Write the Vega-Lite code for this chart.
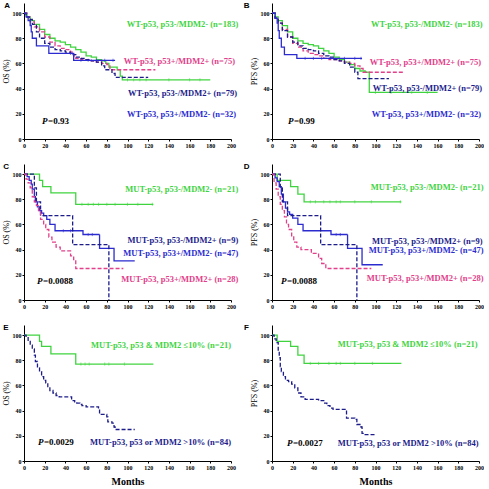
{
"$schema":"https://vega.github.io/schema/vega-lite/v6.json",
"padding":{"left":2,"top":2,"right":0,"bottom":0},
"config":{"view":{"stroke":null},"axis":{"grid":false,"domainColor":"black","tickColor":"black","labelFont":"Liberation Serif","labelFontWeight":"bold","labelFontSize":6,"labelColor":"black","tickSize":2,"labelPadding":1,"titleFont":"Liberation Serif","titleFontWeight":"normal","titleFontSize":8,"titleColor":"black","titlePadding":2,"labelFlush":false,"labelOverlap":false},"scale":{"zero":false}},
"datasets":{
"km":[
{"p":"A","g":"g","t":0,"s":100},{"p":"A","g":"g","t":3,"s":97},{"p":"A","g":"g","t":6,"s":94},{"p":"A","g":"g","t":10,"s":91},{"p":"A","g":"g","t":15,"s":87},{"p":"A","g":"g","t":20,"s":83},{"p":"A","g":"g","t":25,"s":80},{"p":"A","g":"g","t":30,"s":78},{"p":"A","g":"g","t":35,"s":77},{"p":"A","g":"g","t":40,"s":75},{"p":"A","g":"g","t":45,"s":73},{"p":"A","g":"g","t":50,"s":71},{"p":"A","g":"g","t":55,"s":69},{"p":"A","g":"g","t":60,"s":66},{"p":"A","g":"g","t":65,"s":65},{"p":"A","g":"g","t":70,"s":63},{"p":"A","g":"g","t":75,"s":62},{"p":"A","g":"g","t":79,"s":60},{"p":"A","g":"g","t":82,"s":57},{"p":"A","g":"g","t":90,"s":55},{"p":"A","g":"g","t":93,"s":50},{"p":"A","g":"g","t":95,"s":47},{"p":"A","g":"g","t":180,"s":47},
{"p":"A","g":"p","t":0,"s":100},{"p":"A","g":"p","t":3,"s":97},{"p":"A","g":"p","t":6,"s":93},{"p":"A","g":"p","t":10,"s":89},{"p":"A","g":"p","t":15,"s":85},{"p":"A","g":"p","t":20,"s":81},{"p":"A","g":"p","t":25,"s":77},{"p":"A","g":"p","t":30,"s":74},{"p":"A","g":"p","t":35,"s":72},{"p":"A","g":"p","t":40,"s":71},{"p":"A","g":"p","t":45,"s":69},{"p":"A","g":"p","t":48,"s":66},{"p":"A","g":"p","t":50,"s":64},{"p":"A","g":"p","t":55,"s":63},{"p":"A","g":"p","t":65,"s":62},{"p":"A","g":"p","t":70,"s":61},{"p":"A","g":"p","t":75,"s":60},{"p":"A","g":"p","t":80,"s":59},{"p":"A","g":"p","t":83,"s":55},{"p":"A","g":"p","t":127,"s":55},
{"p":"A","g":"n","t":0,"s":100},{"p":"A","g":"n","t":2,"s":97},{"p":"A","g":"n","t":5,"s":95},{"p":"A","g":"n","t":8,"s":91},{"p":"A","g":"n","t":12,"s":85},{"p":"A","g":"n","t":15,"s":80},{"p":"A","g":"n","t":20,"s":76},{"p":"A","g":"n","t":25,"s":73},{"p":"A","g":"n","t":30,"s":71},{"p":"A","g":"n","t":35,"s":70},{"p":"A","g":"n","t":40,"s":69},{"p":"A","g":"n","t":45,"s":67},{"p":"A","g":"n","t":50,"s":65},{"p":"A","g":"n","t":55,"s":64},{"p":"A","g":"n","t":60,"s":63},{"p":"A","g":"n","t":65,"s":62},{"p":"A","g":"n","t":70,"s":61},{"p":"A","g":"n","t":75,"s":58},{"p":"A","g":"n","t":78,"s":55},{"p":"A","g":"n","t":85,"s":52},{"p":"A","g":"n","t":88,"s":49},{"p":"A","g":"n","t":120,"s":49},
{"p":"A","g":"b","t":0,"s":100},{"p":"A","g":"b","t":2,"s":97},{"p":"A","g":"b","t":4,"s":94},{"p":"A","g":"b","t":6,"s":90},{"p":"A","g":"b","t":7,"s":85},{"p":"A","g":"b","t":8,"s":80},{"p":"A","g":"b","t":12,"s":74},{"p":"A","g":"b","t":24,"s":68},{"p":"A","g":"b","t":48,"s":62.5},{"p":"A","g":"b","t":88,"s":62.5},
{"p":"B","g":"g","t":0,"s":100},{"p":"B","g":"g","t":3,"s":97},{"p":"B","g":"g","t":6,"s":94},{"p":"B","g":"g","t":10,"s":90},{"p":"B","g":"g","t":15,"s":85},{"p":"B","g":"g","t":20,"s":80},{"p":"B","g":"g","t":25,"s":78},{"p":"B","g":"g","t":30,"s":76},{"p":"B","g":"g","t":35,"s":75},{"p":"B","g":"g","t":40,"s":74},{"p":"B","g":"g","t":45,"s":72},{"p":"B","g":"g","t":50,"s":70},{"p":"B","g":"g","t":55,"s":68},{"p":"B","g":"g","t":60,"s":65},{"p":"B","g":"g","t":65,"s":63},{"p":"B","g":"g","t":70,"s":61},{"p":"B","g":"g","t":75,"s":59},{"p":"B","g":"g","t":80,"s":56},{"p":"B","g":"g","t":85,"s":54},{"p":"B","g":"g","t":90,"s":53},{"p":"B","g":"g","t":94,"s":37},{"p":"B","g":"g","t":160,"s":37},
{"p":"B","g":"p","t":0,"s":100},{"p":"B","g":"p","t":3,"s":96},{"p":"B","g":"p","t":6,"s":92},{"p":"B","g":"p","t":10,"s":87},{"p":"B","g":"p","t":15,"s":81},{"p":"B","g":"p","t":20,"s":76},{"p":"B","g":"p","t":25,"s":73},{"p":"B","g":"p","t":30,"s":70},{"p":"B","g":"p","t":35,"s":68},{"p":"B","g":"p","t":40,"s":67},{"p":"B","g":"p","t":45,"s":66},{"p":"B","g":"p","t":50,"s":64},{"p":"B","g":"p","t":55,"s":63},{"p":"B","g":"p","t":65,"s":62},{"p":"B","g":"p","t":70,"s":61},{"p":"B","g":"p","t":75,"s":60},{"p":"B","g":"p","t":80,"s":58},{"p":"B","g":"p","t":85,"s":56},{"p":"B","g":"p","t":88,"s":53},{"p":"B","g":"p","t":127,"s":53},
{"p":"B","g":"n","t":0,"s":100},{"p":"B","g":"n","t":3,"s":96},{"p":"B","g":"n","t":6,"s":92},{"p":"B","g":"n","t":10,"s":86},{"p":"B","g":"n","t":15,"s":81},{"p":"B","g":"n","t":20,"s":77},{"p":"B","g":"n","t":25,"s":74},{"p":"B","g":"n","t":30,"s":72},{"p":"B","g":"n","t":35,"s":71},{"p":"B","g":"n","t":40,"s":70},{"p":"B","g":"n","t":45,"s":68},{"p":"B","g":"n","t":50,"s":66},{"p":"B","g":"n","t":55,"s":65},{"p":"B","g":"n","t":60,"s":63},{"p":"B","g":"n","t":65,"s":62},{"p":"B","g":"n","t":70,"s":60},{"p":"B","g":"n","t":75,"s":57},{"p":"B","g":"n","t":80,"s":53},{"p":"B","g":"n","t":83,"s":48},{"p":"B","g":"n","t":113,"s":48},
{"p":"B","g":"b","t":0,"s":100},{"p":"B","g":"b","t":3,"s":96},{"p":"B","g":"b","t":5,"s":92},{"p":"B","g":"b","t":6,"s":86},{"p":"B","g":"b","t":7,"s":80},{"p":"B","g":"b","t":9,"s":73},{"p":"B","g":"b","t":12,"s":67},{"p":"B","g":"b","t":24,"s":64},{"p":"B","g":"b","t":87,"s":64},
{"p":"C","g":"g","t":0,"s":100},{"p":"C","g":"g","t":15,"s":95},{"p":"C","g":"g","t":18,"s":90},{"p":"C","g":"g","t":26,"s":85},{"p":"C","g":"g","t":50,"s":76},{"p":"C","g":"g","t":125,"s":76},
{"p":"C","g":"b","t":0,"s":100},{"p":"C","g":"b","t":3,"s":98},{"p":"C","g":"b","t":5,"s":95},{"p":"C","g":"b","t":7,"s":92},{"p":"C","g":"b","t":8,"s":88},{"p":"C","g":"b","t":10,"s":82},{"p":"C","g":"b","t":11,"s":78},{"p":"C","g":"b","t":13,"s":74},{"p":"C","g":"b","t":15,"s":71},{"p":"C","g":"b","t":17,"s":69},{"p":"C","g":"b","t":19,"s":67},{"p":"C","g":"b","t":22,"s":64},{"p":"C","g":"b","t":25,"s":60},{"p":"C","g":"b","t":30,"s":55},{"p":"C","g":"b","t":57,"s":52},{"p":"C","g":"b","t":73,"s":41},{"p":"C","g":"b","t":87,"s":31},{"p":"C","g":"b","t":107,"s":31},
{"p":"C","g":"n","t":0,"s":100},{"p":"C","g":"n","t":10,"s":89},{"p":"C","g":"n","t":12,"s":78},{"p":"C","g":"n","t":16,"s":67},{"p":"C","g":"n","t":47,"s":44},{"p":"C","g":"n","t":82,"s":0},
{"p":"C","g":"p","t":0,"s":100},{"p":"C","g":"p","t":2,"s":96},{"p":"C","g":"p","t":4,"s":93},{"p":"C","g":"p","t":6,"s":89},{"p":"C","g":"p","t":8,"s":82},{"p":"C","g":"p","t":10,"s":78},{"p":"C","g":"p","t":12,"s":75},{"p":"C","g":"p","t":14,"s":71},{"p":"C","g":"p","t":16,"s":64},{"p":"C","g":"p","t":19,"s":60},{"p":"C","g":"p","t":21,"s":56},{"p":"C","g":"p","t":24,"s":50},{"p":"C","g":"p","t":27,"s":46},{"p":"C","g":"p","t":31,"s":42},{"p":"C","g":"p","t":35,"s":39},{"p":"C","g":"p","t":45,"s":35},{"p":"C","g":"p","t":48,"s":32},{"p":"C","g":"p","t":50,"s":25},{"p":"C","g":"p","t":96,"s":25},
{"p":"D","g":"g","t":0,"s":100},{"p":"D","g":"g","t":5,"s":95},{"p":"D","g":"g","t":18,"s":90},{"p":"D","g":"g","t":25,"s":84},{"p":"D","g":"g","t":31,"s":78},{"p":"D","g":"g","t":125,"s":78},
{"p":"D","g":"b","t":0,"s":100},{"p":"D","g":"b","t":3,"s":97},{"p":"D","g":"b","t":5,"s":94},{"p":"D","g":"b","t":7,"s":90},{"p":"D","g":"b","t":9,"s":84},{"p":"D","g":"b","t":11,"s":78},{"p":"D","g":"b","t":13,"s":73},{"p":"D","g":"b","t":15,"s":70},{"p":"D","g":"b","t":17,"s":68},{"p":"D","g":"b","t":20,"s":65},{"p":"D","g":"b","t":25,"s":60},{"p":"D","g":"b","t":30,"s":55},{"p":"D","g":"b","t":57,"s":52},{"p":"D","g":"b","t":73,"s":41},{"p":"D","g":"b","t":87,"s":28},{"p":"D","g":"b","t":107,"s":28},
{"p":"D","g":"n","t":0,"s":100},{"p":"D","g":"n","t":8,"s":89},{"p":"D","g":"n","t":10,"s":78},{"p":"D","g":"n","t":15,"s":67},{"p":"D","g":"n","t":47,"s":44},{"p":"D","g":"n","t":82,"s":0},
{"p":"D","g":"p","t":0,"s":100},{"p":"D","g":"p","t":2,"s":93},{"p":"D","g":"p","t":4,"s":88},{"p":"D","g":"p","t":6,"s":82},{"p":"D","g":"p","t":8,"s":76},{"p":"D","g":"p","t":10,"s":71},{"p":"D","g":"p","t":12,"s":66},{"p":"D","g":"p","t":14,"s":60},{"p":"D","g":"p","t":16,"s":56},{"p":"D","g":"p","t":19,"s":51},{"p":"D","g":"p","t":21,"s":46},{"p":"D","g":"p","t":24,"s":42},{"p":"D","g":"p","t":28,"s":40},{"p":"D","g":"p","t":38,"s":37},{"p":"D","g":"p","t":45,"s":33},{"p":"D","g":"p","t":48,"s":29},{"p":"D","g":"p","t":52,"s":25},{"p":"D","g":"p","t":96,"s":25},
{"p":"E","g":"g","t":0,"s":100},{"p":"E","g":"g","t":15,"s":95},{"p":"E","g":"g","t":17,"s":91},{"p":"E","g":"g","t":26,"s":85},{"p":"E","g":"g","t":50,"s":77},{"p":"E","g":"g","t":125,"s":77},
{"p":"E","g":"n","t":0,"s":100},{"p":"E","g":"n","t":2,"s":98},{"p":"E","g":"n","t":4,"s":95},{"p":"E","g":"n","t":6,"s":92},{"p":"E","g":"n","t":8,"s":89},{"p":"E","g":"n","t":10,"s":84},{"p":"E","g":"n","t":11,"s":79},{"p":"E","g":"n","t":13,"s":74},{"p":"E","g":"n","t":15,"s":71},{"p":"E","g":"n","t":17,"s":67},{"p":"E","g":"n","t":19,"s":64},{"p":"E","g":"n","t":21,"s":62},{"p":"E","g":"n","t":23,"s":59},{"p":"E","g":"n","t":25,"s":56},{"p":"E","g":"n","t":28,"s":54},{"p":"E","g":"n","t":31,"s":52},{"p":"E","g":"n","t":34,"s":51},{"p":"E","g":"n","t":44,"s":51},{"p":"E","g":"n","t":46,"s":48},{"p":"E","g":"n","t":49,"s":47},{"p":"E","g":"n","t":51,"s":46},{"p":"E","g":"n","t":54,"s":45},{"p":"E","g":"n","t":56,"s":44},{"p":"E","g":"n","t":60,"s":43},{"p":"E","g":"n","t":72,"s":41},{"p":"E","g":"n","t":73,"s":37},{"p":"E","g":"n","t":80,"s":35},{"p":"E","g":"n","t":81,"s":31},{"p":"E","g":"n","t":85,"s":30},{"p":"E","g":"n","t":87,"s":27},{"p":"E","g":"n","t":88,"s":25},{"p":"E","g":"n","t":107,"s":25},
{"p":"F","g":"g","t":0,"s":100},{"p":"F","g":"g","t":5,"s":95},{"p":"F","g":"g","t":18,"s":91},{"p":"F","g":"g","t":25,"s":84},{"p":"F","g":"g","t":31,"s":77.5},{"p":"F","g":"g","t":125,"s":77.5},
{"p":"F","g":"n","t":0,"s":100},{"p":"F","g":"n","t":2,"s":97},{"p":"F","g":"n","t":4,"s":94},{"p":"F","g":"n","t":6,"s":88},{"p":"F","g":"n","t":7,"s":82},{"p":"F","g":"n","t":8,"s":75},{"p":"F","g":"n","t":9,"s":71},{"p":"F","g":"n","t":11,"s":67},{"p":"F","g":"n","t":13,"s":64},{"p":"F","g":"n","t":16,"s":63},{"p":"F","g":"n","t":19,"s":61},{"p":"F","g":"n","t":22,"s":58},{"p":"F","g":"n","t":25,"s":54},{"p":"F","g":"n","t":28,"s":51},{"p":"F","g":"n","t":32,"s":49},{"p":"F","g":"n","t":45,"s":48},{"p":"F","g":"n","t":50,"s":46},{"p":"F","g":"n","t":53,"s":44},{"p":"F","g":"n","t":56,"s":42},{"p":"F","g":"n","t":59,"s":41},{"p":"F","g":"n","t":72,"s":34},{"p":"F","g":"n","t":80,"s":33},{"p":"F","g":"n","t":82,"s":29},{"p":"F","g":"n","t":86,"s":27},{"p":"F","g":"n","t":87,"s":22},{"p":"F","g":"n","t":88,"s":21},{"p":"F","g":"n","t":100,"s":21}
],
"cens":[
{"p":"A","g":"g","t":100,"s":47},{"p":"A","g":"g","t":106,"s":47},{"p":"A","g":"g","t":112,"s":47},{"p":"A","g":"g","t":118,"s":47},{"p":"A","g":"g","t":140,"s":47},{"p":"A","g":"g","t":160,"s":47},{"p":"A","g":"g","t":170,"s":47},
{"p":"A","g":"b","t":55,"s":62.5},{"p":"A","g":"b","t":62,"s":62.5},{"p":"A","g":"b","t":70,"s":62.5},{"p":"A","g":"b","t":78,"s":62.5},{"p":"A","g":"b","t":86,"s":62.5},
{"p":"B","g":"g","t":100,"s":37},{"p":"B","g":"g","t":115,"s":37},{"p":"B","g":"g","t":135,"s":37},{"p":"B","g":"g","t":150,"s":37},
{"p":"B","g":"b","t":32,"s":64},{"p":"B","g":"b","t":40,"s":64},{"p":"B","g":"b","t":48,"s":64},{"p":"B","g":"b","t":56,"s":64},{"p":"B","g":"b","t":70,"s":64},{"p":"B","g":"b","t":80,"s":64},{"p":"B","g":"b","t":86,"s":64},
{"p":"C","g":"g","t":56,"s":76},{"p":"C","g":"g","t":62,"s":76},{"p":"C","g":"g","t":67,"s":76},{"p":"C","g":"g","t":72,"s":76},{"p":"C","g":"g","t":80,"s":76},{"p":"C","g":"g","t":88,"s":76},{"p":"C","g":"g","t":100,"s":76},{"p":"C","g":"g","t":110,"s":76},{"p":"C","g":"g","t":124,"s":76},
{"p":"C","g":"b","t":38,"s":55},{"p":"C","g":"b","t":45,"s":55},{"p":"C","g":"b","t":62,"s":52},{"p":"C","g":"b","t":66,"s":52},
{"p":"D","g":"g","t":37,"s":78},{"p":"D","g":"g","t":42,"s":78},{"p":"D","g":"g","t":50,"s":78},{"p":"D","g":"g","t":56,"s":78},{"p":"D","g":"g","t":62,"s":78},{"p":"D","g":"g","t":66,"s":78},{"p":"D","g":"g","t":80,"s":78},{"p":"D","g":"g","t":96,"s":78},{"p":"D","g":"g","t":124,"s":78},
{"p":"D","g":"b","t":62,"s":52},{"p":"D","g":"b","t":66,"s":52},
{"p":"E","g":"g","t":55,"s":77},{"p":"E","g":"g","t":59,"s":77},{"p":"E","g":"g","t":63,"s":77},{"p":"E","g":"g","t":78,"s":77},{"p":"E","g":"g","t":82,"s":77},{"p":"E","g":"g","t":97,"s":77},
{"p":"F","g":"g","t":37,"s":77.5},{"p":"F","g":"g","t":45,"s":77.5},{"p":"F","g":"g","t":55,"s":77.5},{"p":"F","g":"g","t":62,"s":77.5},{"p":"F","g":"g","t":66,"s":77.5},{"p":"F","g":"g","t":80,"s":77.5},{"p":"F","g":"g","t":97,"s":77.5}
],
"lab":[
{"p":"A","g":"g","x":207,"y":91,"label":"WT-p53, p53-/MDM2- (n=183)"},
{"p":"A","g":"p","x":204,"y":62,"label":"WT-p53, p53+/MDM2+ (n=75)"},
{"p":"A","g":"n","x":206,"y":36.5,"label":"WT-p53, p53-/MDM2+ (n=79)"},
{"p":"A","g":"b","x":205,"y":20,"label":"WT-p53, p53+/MDM2- (n=32)"},
{"p":"B","g":"g","x":203.5,"y":91,"label":"WT-p53, p53-/MDM2- (n=183)"},
{"p":"B","g":"p","x":202,"y":61,"label":"WT-p53, p53+/MDM2+ (n=75)"},
{"p":"B","g":"n","x":203,"y":40.5,"label":"WT-p53, p53-/MDM2+ (n=79)"},
{"p":"B","g":"b","x":202,"y":20,"label":"WT-p53, p53+/MDM2- (n=32)"},
{"p":"C","g":"g","x":207,"y":88,"label":"MUT-p53, p53-/MDM2- (n=21)"},
{"p":"C","g":"n","x":207,"y":48,"label":"MUT-p53, p53-/MDM2+ (n=9)"},
{"p":"C","g":"b","x":207,"y":37,"label":"MUT-p53, p53+/MDM2- (n=47)"},
{"p":"C","g":"p","x":207,"y":17,"label":"MUT-p53, p53+/MDM2+ (n=28)"},
{"p":"D","g":"g","x":204.5,"y":89.5,"label":"MUT-p53, p53-/MDM2- (n=21)"},
{"p":"D","g":"n","x":203.5,"y":47,"label":"MUT-p53, p53-/MDM2+ (n=9)"},
{"p":"D","g":"b","x":204.5,"y":40,"label":"MUT-p53, p53+/MDM2- (n=47)"},
{"p":"D","g":"p","x":204.5,"y":17.5,"label":"MUT-p53, p53+/MDM2+ (n=28)"},
{"p":"E","g":"g","x":200,"y":92.5,"label":"MUT-p53, p53 & MDM2 ≤10% (n=21)"},
{"p":"E","g":"n","x":200,"y":15,"label":"MUT-p53, p53 or MDM2 >10% (n=84)"},
{"p":"F","g":"g","x":198.7,"y":93,"label":"MUT-p53, p53 & MDM2 ≤10% (n=21)"},
{"p":"F","g":"n","x":199.7,"y":14,"label":"MUT-p53, p53 or MDM2 >10% (n=84)"}
],
"pv":[
{"p":"A","x":17.4,"y":14.6,"label":"=0.93"},
{"p":"B","x":15.4,"y":14.6,"label":"=0.99"},
{"p":"C","x":12.6,"y":15,"label":"=0.0088"},
{"p":"D","x":8.7,"y":15,"label":"=0.0088"},
{"p":"E","x":13.5,"y":15,"label":"=0.0029"},
{"p":"F","x":14.4,"y":14,"label":"=0.0027"}
],
"let":[
{"p":"A","x":-19,"y":104,"label":"A"},
{"p":"B","x":-27.4,"y":104,"label":"B"},
{"p":"C","x":-20,"y":104,"label":"C"},
{"p":"D","x":-27.4,"y":104,"label":"D"},
{"p":"E","x":-20,"y":104,"label":"E"},
{"p":"F","x":-27,"y":104,"label":"F"}
]
},
"concat":[
{"width":207,"height":136,"layer":[
{"data":{"name":"km"},"transform":[{"filter":"datum.p==='A'"}],"mark":{"type":"line","interpolate":"step-after","strokeWidth":1.3},"encoding":{"x":{"field":"t","type":"quantitative","scale":{"domain":[0,200],"nice":false},"axis":{"values":[0,20,40,60,80,100,120,140,160,180,200],"labelOverlap":false,"title":null}},"y":{"field":"s","type":"quantitative","scale":{"domain":[0,108],"nice":false},"axis":{"values":[0,20,40,60,80,100],"labelOverlap":false,"title":"OS (%)"}},"color":{"field":"g","type":"nominal","scale":{"domain":["g","p","n","b"],"range":["#3fd43f","#e2408a","#1c1c8a","#2b2bd0"]},"legend":null},"strokeDash":{"field":"g","type":"nominal","scale":{"domain":["g","p","n","b"],"range":[[1,0],[4,2],[4,2],[1,0]]},"legend":null}}},
{"data":{"name":"cens"},"transform":[{"filter":"datum.p==='A'"}],"mark":{"type":"point","shape":"stroke","angle":90,"size":10,"strokeWidth":0.8},"encoding":{"x":{"field":"t","type":"quantitative","scale":{"domain":[0,200],"nice":false},"axis":{"values":[0,20,40,60,80,100,120,140,160,180,200],"labelOverlap":false,"title":null}},"y":{"field":"s","type":"quantitative","scale":{"domain":[0,108],"nice":false},"axis":{"values":[0,20,40,60,80,100],"labelOverlap":false,"title":"OS (%)"}},"color":{"field":"g","type":"nominal","legend":null}}},
{"data":{"name":"lab"},"transform":[{"filter":"datum.p==='A'"}],"mark":{"type":"text","align":"right","baseline":"middle","font":"Liberation Serif","fontWeight":"bold","fontSize":8.5},"encoding":{"x":{"field":"x","type":"quantitative","scale":{"domain":[0,200],"nice":false},"axis":{"values":[0,20,40,60,80,100,120,140,160,180,200],"labelOverlap":false,"title":null}},"y":{"field":"y","type":"quantitative","scale":{"domain":[0,108],"nice":false},"axis":{"values":[0,20,40,60,80,100],"labelOverlap":false,"title":"OS (%)"}},"text":{"field":"label"},"color":{"field":"g","type":"nominal","legend":null}}},
{"data":{"name":"pv"},"transform":[{"filter":"datum.p==='A'"}],"mark":{"type":"text","align":"left","baseline":"middle","font":"Liberation Serif","fontWeight":"bold","fontStyle":"italic","fontSize":9,"color":"black"},"encoding":{"x":{"field":"x","type":"quantitative","scale":{"domain":[0,200],"nice":false},"axis":{"values":[0,20,40,60,80,100,120,140,160,180,200],"labelOverlap":false,"title":null}},"y":{"field":"y","type":"quantitative","scale":{"domain":[0,108],"nice":false},"axis":{"values":[0,20,40,60,80,100],"labelOverlap":false,"title":"OS (%)"}},"text":{"value":"P"}}},
{"data":{"name":"pv"},"transform":[{"filter":"datum.p==='A'"}],"mark":{"type":"text","align":"left","baseline":"middle","font":"Liberation Serif","fontWeight":"bold","fontSize":9,"dx":6,"color":"black"},"encoding":{"x":{"field":"x","type":"quantitative","scale":{"domain":[0,200],"nice":false},"axis":{"values":[0,20,40,60,80,100,120,140,160,180,200],"labelOverlap":false,"title":null}},"y":{"field":"y","type":"quantitative","scale":{"domain":[0,108],"nice":false},"axis":{"values":[0,20,40,60,80,100],"labelOverlap":false,"title":"OS (%)"}},"text":{"field":"label"}}},
{"data":{"name":"let"},"transform":[{"filter":"datum.p==='A'"}],"mark":{"type":"text","align":"left","baseline":"alphabetic","font":"Liberation Sans","fontWeight":"bold","fontSize":8,"color":"black"},"encoding":{"x":{"field":"x","type":"quantitative","scale":{"domain":[0,200],"nice":false},"axis":{"values":[0,20,40,60,80,100,120,140,160,180,200],"labelOverlap":false,"title":null}},"y":{"field":"y","type":"quantitative","scale":{"domain":[0,108],"nice":false},"axis":{"values":[0,20,40,60,80,100],"labelOverlap":false,"title":"OS (%)"}},"text":{"field":"label"}}}
]},
{"width":207,"height":136,"layer":[
{"data":{"name":"km"},"transform":[{"filter":"datum.p==='B'"}],"mark":{"type":"line","interpolate":"step-after","strokeWidth":1.3},"encoding":{"x":{"field":"t","type":"quantitative","scale":{"domain":[0,200],"nice":false},"axis":{"values":[0,20,40,60,80,100,120,140,160,180,200],"labelOverlap":false,"title":null}},"y":{"field":"s","type":"quantitative","scale":{"domain":[0,108],"nice":false},"axis":{"values":[0,20,40,60,80,100],"labelOverlap":false,"title":"PFS (%)"}},"color":{"field":"g","type":"nominal","scale":{"domain":["g","p","n","b"],"range":["#3fd43f","#e2408a","#1c1c8a","#2b2bd0"]},"legend":null},"strokeDash":{"field":"g","type":"nominal","scale":{"domain":["g","p","n","b"],"range":[[1,0],[4,2],[4,2],[1,0]]},"legend":null}}},
{"data":{"name":"cens"},"transform":[{"filter":"datum.p==='B'"}],"mark":{"type":"point","shape":"stroke","angle":90,"size":10,"strokeWidth":0.8},"encoding":{"x":{"field":"t","type":"quantitative","scale":{"domain":[0,200],"nice":false},"axis":{"values":[0,20,40,60,80,100,120,140,160,180,200],"labelOverlap":false,"title":null}},"y":{"field":"s","type":"quantitative","scale":{"domain":[0,108],"nice":false},"axis":{"values":[0,20,40,60,80,100],"labelOverlap":false,"title":"PFS (%)"}},"color":{"field":"g","type":"nominal","legend":null}}},
{"data":{"name":"lab"},"transform":[{"filter":"datum.p==='B'"}],"mark":{"type":"text","align":"right","baseline":"middle","font":"Liberation Serif","fontWeight":"bold","fontSize":8.5},"encoding":{"x":{"field":"x","type":"quantitative","scale":{"domain":[0,200],"nice":false},"axis":{"values":[0,20,40,60,80,100,120,140,160,180,200],"labelOverlap":false,"title":null}},"y":{"field":"y","type":"quantitative","scale":{"domain":[0,108],"nice":false},"axis":{"values":[0,20,40,60,80,100],"labelOverlap":false,"title":"PFS (%)"}},"text":{"field":"label"},"color":{"field":"g","type":"nominal","legend":null}}},
{"data":{"name":"pv"},"transform":[{"filter":"datum.p==='B'"}],"mark":{"type":"text","align":"left","baseline":"middle","font":"Liberation Serif","fontWeight":"bold","fontStyle":"italic","fontSize":9,"color":"black"},"encoding":{"x":{"field":"x","type":"quantitative","scale":{"domain":[0,200],"nice":false},"axis":{"values":[0,20,40,60,80,100,120,140,160,180,200],"labelOverlap":false,"title":null}},"y":{"field":"y","type":"quantitative","scale":{"domain":[0,108],"nice":false},"axis":{"values":[0,20,40,60,80,100],"labelOverlap":false,"title":"PFS (%)"}},"text":{"value":"P"}}},
{"data":{"name":"pv"},"transform":[{"filter":"datum.p==='B'"}],"mark":{"type":"text","align":"left","baseline":"middle","font":"Liberation Serif","fontWeight":"bold","fontSize":9,"dx":6,"color":"black"},"encoding":{"x":{"field":"x","type":"quantitative","scale":{"domain":[0,200],"nice":false},"axis":{"values":[0,20,40,60,80,100,120,140,160,180,200],"labelOverlap":false,"title":null}},"y":{"field":"y","type":"quantitative","scale":{"domain":[0,108],"nice":false},"axis":{"values":[0,20,40,60,80,100],"labelOverlap":false,"title":"PFS (%)"}},"text":{"field":"label"}}},
{"data":{"name":"let"},"transform":[{"filter":"datum.p==='B'"}],"mark":{"type":"text","align":"left","baseline":"alphabetic","font":"Liberation Sans","fontWeight":"bold","fontSize":8,"color":"black"},"encoding":{"x":{"field":"x","type":"quantitative","scale":{"domain":[0,200],"nice":false},"axis":{"values":[0,20,40,60,80,100,120,140,160,180,200],"labelOverlap":false,"title":null}},"y":{"field":"y","type":"quantitative","scale":{"domain":[0,108],"nice":false},"axis":{"values":[0,20,40,60,80,100],"labelOverlap":false,"title":"PFS (%)"}},"text":{"field":"label"}}}
]},
{"width":207,"height":136,"layer":[
{"data":{"name":"km"},"transform":[{"filter":"datum.p==='C'"}],"mark":{"type":"line","interpolate":"step-after","strokeWidth":1.3},"encoding":{"x":{"field":"t","type":"quantitative","scale":{"domain":[0,200],"nice":false},"axis":{"values":[0,20,40,60,80,100,120,140,160,180,200],"labelOverlap":false,"title":null}},"y":{"field":"s","type":"quantitative","scale":{"domain":[0,108],"nice":false},"axis":{"values":[0,20,40,60,80,100],"labelOverlap":false,"title":"OS (%)"}},"color":{"field":"g","type":"nominal","scale":{"domain":["g","p","n","b"],"range":["#3fd43f","#e2408a","#1c1c8a","#2b2bd0"]},"legend":null},"strokeDash":{"field":"g","type":"nominal","scale":{"domain":["g","p","n","b"],"range":[[1,0],[4,2],[4,2],[1,0]]},"legend":null}}},
{"data":{"name":"cens"},"transform":[{"filter":"datum.p==='C'"}],"mark":{"type":"point","shape":"stroke","angle":90,"size":10,"strokeWidth":0.8},"encoding":{"x":{"field":"t","type":"quantitative","scale":{"domain":[0,200],"nice":false},"axis":{"values":[0,20,40,60,80,100,120,140,160,180,200],"labelOverlap":false,"title":null}},"y":{"field":"s","type":"quantitative","scale":{"domain":[0,108],"nice":false},"axis":{"values":[0,20,40,60,80,100],"labelOverlap":false,"title":"OS (%)"}},"color":{"field":"g","type":"nominal","legend":null}}},
{"data":{"name":"lab"},"transform":[{"filter":"datum.p==='C'"}],"mark":{"type":"text","align":"right","baseline":"middle","font":"Liberation Serif","fontWeight":"bold","fontSize":8.5},"encoding":{"x":{"field":"x","type":"quantitative","scale":{"domain":[0,200],"nice":false},"axis":{"values":[0,20,40,60,80,100,120,140,160,180,200],"labelOverlap":false,"title":null}},"y":{"field":"y","type":"quantitative","scale":{"domain":[0,108],"nice":false},"axis":{"values":[0,20,40,60,80,100],"labelOverlap":false,"title":"OS (%)"}},"text":{"field":"label"},"color":{"field":"g","type":"nominal","legend":null}}},
{"data":{"name":"pv"},"transform":[{"filter":"datum.p==='C'"}],"mark":{"type":"text","align":"left","baseline":"middle","font":"Liberation Serif","fontWeight":"bold","fontStyle":"italic","fontSize":9,"color":"black"},"encoding":{"x":{"field":"x","type":"quantitative","scale":{"domain":[0,200],"nice":false},"axis":{"values":[0,20,40,60,80,100,120,140,160,180,200],"labelOverlap":false,"title":null}},"y":{"field":"y","type":"quantitative","scale":{"domain":[0,108],"nice":false},"axis":{"values":[0,20,40,60,80,100],"labelOverlap":false,"title":"OS (%)"}},"text":{"value":"P"}}},
{"data":{"name":"pv"},"transform":[{"filter":"datum.p==='C'"}],"mark":{"type":"text","align":"left","baseline":"middle","font":"Liberation Serif","fontWeight":"bold","fontSize":9,"dx":6,"color":"black"},"encoding":{"x":{"field":"x","type":"quantitative","scale":{"domain":[0,200],"nice":false},"axis":{"values":[0,20,40,60,80,100,120,140,160,180,200],"labelOverlap":false,"title":null}},"y":{"field":"y","type":"quantitative","scale":{"domain":[0,108],"nice":false},"axis":{"values":[0,20,40,60,80,100],"labelOverlap":false,"title":"OS (%)"}},"text":{"field":"label"}}},
{"data":{"name":"let"},"transform":[{"filter":"datum.p==='C'"}],"mark":{"type":"text","align":"left","baseline":"alphabetic","font":"Liberation Sans","fontWeight":"bold","fontSize":8,"color":"black"},"encoding":{"x":{"field":"x","type":"quantitative","scale":{"domain":[0,200],"nice":false},"axis":{"values":[0,20,40,60,80,100,120,140,160,180,200],"labelOverlap":false,"title":null}},"y":{"field":"y","type":"quantitative","scale":{"domain":[0,108],"nice":false},"axis":{"values":[0,20,40,60,80,100],"labelOverlap":false,"title":"OS (%)"}},"text":{"field":"label"}}}
]},
{"width":207,"height":136,"layer":[
{"data":{"name":"km"},"transform":[{"filter":"datum.p==='D'"}],"mark":{"type":"line","interpolate":"step-after","strokeWidth":1.3},"encoding":{"x":{"field":"t","type":"quantitative","scale":{"domain":[0,200],"nice":false},"axis":{"values":[0,20,40,60,80,100,120,140,160,180,200],"labelOverlap":false,"title":null}},"y":{"field":"s","type":"quantitative","scale":{"domain":[0,108],"nice":false},"axis":{"values":[0,20,40,60,80,100],"labelOverlap":false,"title":"PFS (%)"}},"color":{"field":"g","type":"nominal","scale":{"domain":["g","p","n","b"],"range":["#3fd43f","#e2408a","#1c1c8a","#2b2bd0"]},"legend":null},"strokeDash":{"field":"g","type":"nominal","scale":{"domain":["g","p","n","b"],"range":[[1,0],[4,2],[4,2],[1,0]]},"legend":null}}},
{"data":{"name":"cens"},"transform":[{"filter":"datum.p==='D'"}],"mark":{"type":"point","shape":"stroke","angle":90,"size":10,"strokeWidth":0.8},"encoding":{"x":{"field":"t","type":"quantitative","scale":{"domain":[0,200],"nice":false},"axis":{"values":[0,20,40,60,80,100,120,140,160,180,200],"labelOverlap":false,"title":null}},"y":{"field":"s","type":"quantitative","scale":{"domain":[0,108],"nice":false},"axis":{"values":[0,20,40,60,80,100],"labelOverlap":false,"title":"PFS (%)"}},"color":{"field":"g","type":"nominal","legend":null}}},
{"data":{"name":"lab"},"transform":[{"filter":"datum.p==='D'"}],"mark":{"type":"text","align":"right","baseline":"middle","font":"Liberation Serif","fontWeight":"bold","fontSize":8.5},"encoding":{"x":{"field":"x","type":"quantitative","scale":{"domain":[0,200],"nice":false},"axis":{"values":[0,20,40,60,80,100,120,140,160,180,200],"labelOverlap":false,"title":null}},"y":{"field":"y","type":"quantitative","scale":{"domain":[0,108],"nice":false},"axis":{"values":[0,20,40,60,80,100],"labelOverlap":false,"title":"PFS (%)"}},"text":{"field":"label"},"color":{"field":"g","type":"nominal","legend":null}}},
{"data":{"name":"pv"},"transform":[{"filter":"datum.p==='D'"}],"mark":{"type":"text","align":"left","baseline":"middle","font":"Liberation Serif","fontWeight":"bold","fontStyle":"italic","fontSize":9,"color":"black"},"encoding":{"x":{"field":"x","type":"quantitative","scale":{"domain":[0,200],"nice":false},"axis":{"values":[0,20,40,60,80,100,120,140,160,180,200],"labelOverlap":false,"title":null}},"y":{"field":"y","type":"quantitative","scale":{"domain":[0,108],"nice":false},"axis":{"values":[0,20,40,60,80,100],"labelOverlap":false,"title":"PFS (%)"}},"text":{"value":"P"}}},
{"data":{"name":"pv"},"transform":[{"filter":"datum.p==='D'"}],"mark":{"type":"text","align":"left","baseline":"middle","font":"Liberation Serif","fontWeight":"bold","fontSize":9,"dx":6,"color":"black"},"encoding":{"x":{"field":"x","type":"quantitative","scale":{"domain":[0,200],"nice":false},"axis":{"values":[0,20,40,60,80,100,120,140,160,180,200],"labelOverlap":false,"title":null}},"y":{"field":"y","type":"quantitative","scale":{"domain":[0,108],"nice":false},"axis":{"values":[0,20,40,60,80,100],"labelOverlap":false,"title":"PFS (%)"}},"text":{"field":"label"}}},
{"data":{"name":"let"},"transform":[{"filter":"datum.p==='D'"}],"mark":{"type":"text","align":"left","baseline":"alphabetic","font":"Liberation Sans","fontWeight":"bold","fontSize":8,"color":"black"},"encoding":{"x":{"field":"x","type":"quantitative","scale":{"domain":[0,200],"nice":false},"axis":{"values":[0,20,40,60,80,100,120,140,160,180,200],"labelOverlap":false,"title":null}},"y":{"field":"y","type":"quantitative","scale":{"domain":[0,108],"nice":false},"axis":{"values":[0,20,40,60,80,100],"labelOverlap":false,"title":"PFS (%)"}},"text":{"field":"label"}}}
]},
{"width":207,"height":136,"layer":[
{"data":{"name":"km"},"transform":[{"filter":"datum.p==='E'"}],"mark":{"type":"line","interpolate":"step-after","strokeWidth":1.3},"encoding":{"x":{"field":"t","type":"quantitative","scale":{"domain":[0,200],"nice":false},"axis":{"values":[0,20,40,60,80,100,120,140,160,180,200],"labelOverlap":false,"title":"Months","titleFontWeight":"bold","titleFontSize":10,"titlePadding":6}},"y":{"field":"s","type":"quantitative","scale":{"domain":[0,108],"nice":false},"axis":{"values":[0,20,40,60,80,100],"labelOverlap":false,"title":"OS (%)"}},"color":{"field":"g","type":"nominal","scale":{"domain":["g","p","n","b"],"range":["#3fd43f","#e2408a","#1c1c8a","#2b2bd0"]},"legend":null},"strokeDash":{"field":"g","type":"nominal","scale":{"domain":["g","p","n","b"],"range":[[1,0],[4,2],[4,2],[1,0]]},"legend":null}}},
{"data":{"name":"cens"},"transform":[{"filter":"datum.p==='E'"}],"mark":{"type":"point","shape":"stroke","angle":90,"size":10,"strokeWidth":0.8},"encoding":{"x":{"field":"t","type":"quantitative","scale":{"domain":[0,200],"nice":false},"axis":{"values":[0,20,40,60,80,100,120,140,160,180,200],"labelOverlap":false,"title":"Months","titleFontWeight":"bold","titleFontSize":10,"titlePadding":6}},"y":{"field":"s","type":"quantitative","scale":{"domain":[0,108],"nice":false},"axis":{"values":[0,20,40,60,80,100],"labelOverlap":false,"title":"OS (%)"}},"color":{"field":"g","type":"nominal","legend":null}}},
{"data":{"name":"lab"},"transform":[{"filter":"datum.p==='E'"}],"mark":{"type":"text","align":"right","baseline":"middle","font":"Liberation Serif","fontWeight":"bold","fontSize":8.5},"encoding":{"x":{"field":"x","type":"quantitative","scale":{"domain":[0,200],"nice":false},"axis":{"values":[0,20,40,60,80,100,120,140,160,180,200],"labelOverlap":false,"title":"Months","titleFontWeight":"bold","titleFontSize":10,"titlePadding":6}},"y":{"field":"y","type":"quantitative","scale":{"domain":[0,108],"nice":false},"axis":{"values":[0,20,40,60,80,100],"labelOverlap":false,"title":"OS (%)"}},"text":{"field":"label"},"color":{"field":"g","type":"nominal","legend":null}}},
{"data":{"name":"pv"},"transform":[{"filter":"datum.p==='E'"}],"mark":{"type":"text","align":"left","baseline":"middle","font":"Liberation Serif","fontWeight":"bold","fontStyle":"italic","fontSize":9,"color":"black"},"encoding":{"x":{"field":"x","type":"quantitative","scale":{"domain":[0,200],"nice":false},"axis":{"values":[0,20,40,60,80,100,120,140,160,180,200],"labelOverlap":false,"title":"Months","titleFontWeight":"bold","titleFontSize":10,"titlePadding":6}},"y":{"field":"y","type":"quantitative","scale":{"domain":[0,108],"nice":false},"axis":{"values":[0,20,40,60,80,100],"labelOverlap":false,"title":"OS (%)"}},"text":{"value":"P"}}},
{"data":{"name":"pv"},"transform":[{"filter":"datum.p==='E'"}],"mark":{"type":"text","align":"left","baseline":"middle","font":"Liberation Serif","fontWeight":"bold","fontSize":9,"dx":6,"color":"black"},"encoding":{"x":{"field":"x","type":"quantitative","scale":{"domain":[0,200],"nice":false},"axis":{"values":[0,20,40,60,80,100,120,140,160,180,200],"labelOverlap":false,"title":"Months","titleFontWeight":"bold","titleFontSize":10,"titlePadding":6}},"y":{"field":"y","type":"quantitative","scale":{"domain":[0,108],"nice":false},"axis":{"values":[0,20,40,60,80,100],"labelOverlap":false,"title":"OS (%)"}},"text":{"field":"label"}}},
{"data":{"name":"let"},"transform":[{"filter":"datum.p==='E'"}],"mark":{"type":"text","align":"left","baseline":"alphabetic","font":"Liberation Sans","fontWeight":"bold","fontSize":8,"color":"black"},"encoding":{"x":{"field":"x","type":"quantitative","scale":{"domain":[0,200],"nice":false},"axis":{"values":[0,20,40,60,80,100,120,140,160,180,200],"labelOverlap":false,"title":"Months","titleFontWeight":"bold","titleFontSize":10,"titlePadding":6}},"y":{"field":"y","type":"quantitative","scale":{"domain":[0,108],"nice":false},"axis":{"values":[0,20,40,60,80,100],"labelOverlap":false,"title":"OS (%)"}},"text":{"field":"label"}}}
]},
{"width":207,"height":136,"layer":[
{"data":{"name":"km"},"transform":[{"filter":"datum.p==='F'"}],"mark":{"type":"line","interpolate":"step-after","strokeWidth":1.3},"encoding":{"x":{"field":"t","type":"quantitative","scale":{"domain":[0,200],"nice":false},"axis":{"values":[0,20,40,60,80,100,120,140,160,180,200],"labelOverlap":false,"title":"Months","titleFontWeight":"bold","titleFontSize":10,"titlePadding":6}},"y":{"field":"s","type":"quantitative","scale":{"domain":[0,108],"nice":false},"axis":{"values":[0,20,40,60,80,100],"labelOverlap":false,"title":"PFS (%)"}},"color":{"field":"g","type":"nominal","scale":{"domain":["g","p","n","b"],"range":["#3fd43f","#e2408a","#1c1c8a","#2b2bd0"]},"legend":null},"strokeDash":{"field":"g","type":"nominal","scale":{"domain":["g","p","n","b"],"range":[[1,0],[4,2],[4,2],[1,0]]},"legend":null}}},
{"data":{"name":"cens"},"transform":[{"filter":"datum.p==='F'"}],"mark":{"type":"point","shape":"stroke","angle":90,"size":10,"strokeWidth":0.8},"encoding":{"x":{"field":"t","type":"quantitative","scale":{"domain":[0,200],"nice":false},"axis":{"values":[0,20,40,60,80,100,120,140,160,180,200],"labelOverlap":false,"title":"Months","titleFontWeight":"bold","titleFontSize":10,"titlePadding":6}},"y":{"field":"s","type":"quantitative","scale":{"domain":[0,108],"nice":false},"axis":{"values":[0,20,40,60,80,100],"labelOverlap":false,"title":"PFS (%)"}},"color":{"field":"g","type":"nominal","legend":null}}},
{"data":{"name":"lab"},"transform":[{"filter":"datum.p==='F'"}],"mark":{"type":"text","align":"right","baseline":"middle","font":"Liberation Serif","fontWeight":"bold","fontSize":8.5},"encoding":{"x":{"field":"x","type":"quantitative","scale":{"domain":[0,200],"nice":false},"axis":{"values":[0,20,40,60,80,100,120,140,160,180,200],"labelOverlap":false,"title":"Months","titleFontWeight":"bold","titleFontSize":10,"titlePadding":6}},"y":{"field":"y","type":"quantitative","scale":{"domain":[0,108],"nice":false},"axis":{"values":[0,20,40,60,80,100],"labelOverlap":false,"title":"PFS (%)"}},"text":{"field":"label"},"color":{"field":"g","type":"nominal","legend":null}}},
{"data":{"name":"pv"},"transform":[{"filter":"datum.p==='F'"}],"mark":{"type":"text","align":"left","baseline":"middle","font":"Liberation Serif","fontWeight":"bold","fontStyle":"italic","fontSize":9,"color":"black"},"encoding":{"x":{"field":"x","type":"quantitative","scale":{"domain":[0,200],"nice":false},"axis":{"values":[0,20,40,60,80,100,120,140,160,180,200],"labelOverlap":false,"title":"Months","titleFontWeight":"bold","titleFontSize":10,"titlePadding":6}},"y":{"field":"y","type":"quantitative","scale":{"domain":[0,108],"nice":false},"axis":{"values":[0,20,40,60,80,100],"labelOverlap":false,"title":"PFS (%)"}},"text":{"value":"P"}}},
{"data":{"name":"pv"},"transform":[{"filter":"datum.p==='F'"}],"mark":{"type":"text","align":"left","baseline":"middle","font":"Liberation Serif","fontWeight":"bold","fontSize":9,"dx":6,"color":"black"},"encoding":{"x":{"field":"x","type":"quantitative","scale":{"domain":[0,200],"nice":false},"axis":{"values":[0,20,40,60,80,100,120,140,160,180,200],"labelOverlap":false,"title":"Months","titleFontWeight":"bold","titleFontSize":10,"titlePadding":6}},"y":{"field":"y","type":"quantitative","scale":{"domain":[0,108],"nice":false},"axis":{"values":[0,20,40,60,80,100],"labelOverlap":false,"title":"PFS (%)"}},"text":{"field":"label"}}},
{"data":{"name":"let"},"transform":[{"filter":"datum.p==='F'"}],"mark":{"type":"text","align":"left","baseline":"alphabetic","font":"Liberation Sans","fontWeight":"bold","fontSize":8,"color":"black"},"encoding":{"x":{"field":"x","type":"quantitative","scale":{"domain":[0,200],"nice":false},"axis":{"values":[0,20,40,60,80,100,120,140,160,180,200],"labelOverlap":false,"title":"Months","titleFontWeight":"bold","titleFontSize":10,"titlePadding":6}},"y":{"field":"y","type":"quantitative","scale":{"domain":[0,108],"nice":false},"axis":{"values":[0,20,40,60,80,100],"labelOverlap":false,"title":"PFS (%)"}},"text":{"field":"label"}}}
]}
],
"columns":2,
"spacing":{"row":15,"column":4}
}
